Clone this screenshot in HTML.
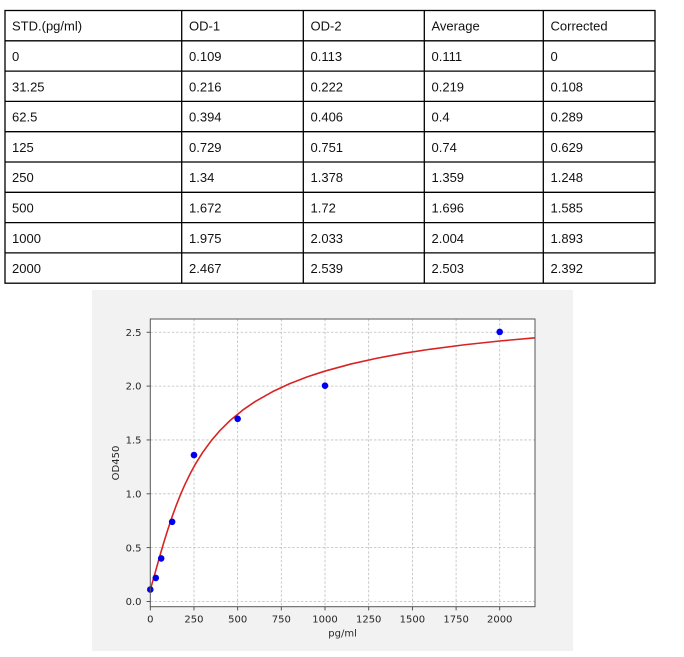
<!DOCTYPE html>
<html><head><meta charset="utf-8"><style>
html,body{margin:0;padding:0;background:#fff;}
svg{display:block;}
.t{font-family:"Liberation Sans",Arial,sans-serif;font-size:13px;fill:#111;}
.k{font-family:"DejaVu Sans","Liberation Sans",sans-serif;font-size:10px;fill:#262626;}
</style></head><body>
<svg width="684" height="657" viewBox="0 0 684 657" xmlns="http://www.w3.org/2000/svg">
<rect x="0" y="0" width="684" height="657" fill="#fff"/>
<!-- table -->
<g stroke="#000" stroke-width="1.3" fill="none">
<rect x="5" y="10.5" width="650" height="272.7"/>
<line x1="5" y1="40.8" x2="655" y2="40.8"/>
<line x1="5" y1="71.1" x2="655" y2="71.1"/>
<line x1="5" y1="101.4" x2="655" y2="101.4"/>
<line x1="5" y1="131.7" x2="655" y2="131.7"/>
<line x1="5" y1="162" x2="655" y2="162"/>
<line x1="5" y1="192.3" x2="655" y2="192.3"/>
<line x1="5" y1="222.6" x2="655" y2="222.6"/>
<line x1="5" y1="252.9" x2="655" y2="252.9"/>
<line x1="181.7" y1="10.5" x2="181.7" y2="283.2"/>
<line x1="303.3" y1="10.5" x2="303.3" y2="283.2"/>
<line x1="424.3" y1="10.5" x2="424.3" y2="283.2"/>
<line x1="543.3" y1="10.5" x2="543.3" y2="283.2"/>
</g>
<g class="t">
<text x="12" y="30.6">STD.(pg/ml)</text><text x="189" y="30.6">OD-1</text><text x="310.5" y="30.6">OD-2</text><text x="431.5" y="30.6">Average</text><text x="550.5" y="30.6">Corrected</text>
<text x="12" y="61">0</text><text x="189" y="61">0.109</text><text x="310.5" y="61">0.113</text><text x="431.5" y="61">0.111</text><text x="550.5" y="61">0</text>
<text x="12" y="91.3">31.25</text><text x="189" y="91.3">0.216</text><text x="310.5" y="91.3">0.222</text><text x="431.5" y="91.3">0.219</text><text x="550.5" y="91.3">0.108</text>
<text x="12" y="121.6">62.5</text><text x="189" y="121.6">0.394</text><text x="310.5" y="121.6">0.406</text><text x="431.5" y="121.6">0.4</text><text x="550.5" y="121.6">0.289</text>
<text x="12" y="151.9">125</text><text x="189" y="151.9">0.729</text><text x="310.5" y="151.9">0.751</text><text x="431.5" y="151.9">0.74</text><text x="550.5" y="151.9">0.629</text>
<text x="12" y="182.2">250</text><text x="189" y="182.2">1.34</text><text x="310.5" y="182.2">1.378</text><text x="431.5" y="182.2">1.359</text><text x="550.5" y="182.2">1.248</text>
<text x="12" y="212.5">500</text><text x="189" y="212.5">1.672</text><text x="310.5" y="212.5">1.72</text><text x="431.5" y="212.5">1.696</text><text x="550.5" y="212.5">1.585</text>
<text x="12" y="242.8">1000</text><text x="189" y="242.8">1.975</text><text x="310.5" y="242.8">2.033</text><text x="431.5" y="242.8">2.004</text><text x="550.5" y="242.8">1.893</text>
<text x="12" y="273.1">2000</text><text x="189" y="273.1">2.467</text><text x="310.5" y="273.1">2.539</text><text x="431.5" y="273.1">2.503</text><text x="550.5" y="273.1">2.392</text>
</g>
<!-- chart background -->
<rect x="92" y="290" width="481" height="361" fill="#f2f2f2"/>
<rect x="150.3" y="319" width="384.7" height="287.7" fill="#fff"/>
<defs><clipPath id="pc"><rect x="150.3" y="319" width="384.7" height="287.7"/></clipPath></defs>
<!-- grid -->
<g stroke="#bdbdbd" stroke-width="0.8" stroke-dasharray="2.5,1.8" fill="none">
<line x1="193.98" y1="319" x2="193.98" y2="606.7"/>
<line x1="237.65" y1="319" x2="237.65" y2="606.7"/>
<line x1="281.3" y1="319" x2="281.3" y2="606.7"/>
<line x1="325" y1="319" x2="325" y2="606.7"/>
<line x1="368.7" y1="319" x2="368.7" y2="606.7"/>
<line x1="412.4" y1="319" x2="412.4" y2="606.7"/>
<line x1="456.1" y1="319" x2="456.1" y2="606.7"/>
<line x1="499.7" y1="319" x2="499.7" y2="606.7"/>
<line x1="150.3" y1="601.5" x2="535" y2="601.5"/>
<line x1="150.3" y1="547.65" x2="535" y2="547.65"/>
<line x1="150.3" y1="493.8" x2="535" y2="493.8"/>
<line x1="150.3" y1="439.95" x2="535" y2="439.95"/>
<line x1="150.3" y1="386.1" x2="535" y2="386.1"/>
<line x1="150.3" y1="332.25" x2="535" y2="332.25"/>
</g>
<!-- fitted curve -->
<g clip-path="url(#pc)">
<polyline fill="none" stroke="#d92323" stroke-width="1.6" stroke-linejoin="round" points="150.3,589.65 152.05,583.67 153.79,577.52 155.54,571.30 158.16,561.96 160.78,552.78 164.28,540.94 167.77,529.71 172.14,516.62 176.51,504.65 180.87,493.72 185.24,483.82 190.48,473.11 195.72,463.56 202.71,452.36 211.45,440.42 220.18,430.28 230.66,419.99 242.89,409.97 255.12,401.58 272.59,391.66 290.06,383.53 307.53,376.78 325,371.07 351.2,363.95 377.41,358.14 403.62,353.33 429.82,349.27 464.76,344.75 499.7,341.00 534.99,337.82 536,337.7"/>
</g>
<!-- points -->
<g fill="#0000ee">
<circle cx="150.3" cy="589.5" r="3.3"/>
<circle cx="155.76" cy="577.9" r="3.3"/>
<circle cx="161.2" cy="558.4" r="3.3"/>
<circle cx="172.14" cy="521.8" r="3.3"/>
<circle cx="193.98" cy="455.1" r="3.3"/>
<circle cx="237.65" cy="418.8" r="3.3"/>
<circle cx="325" cy="385.7" r="3.3"/>
<circle cx="499.7" cy="331.9" r="3.3"/>
</g>
<!-- spines -->
<rect x="150.3" y="319" width="384.7" height="287.7" fill="none" stroke="#555" stroke-width="1"/>
<!-- ticks -->
<g stroke="#444" stroke-width="0.9">
<line x1="150.3" y1="606.7" x2="150.3" y2="610.4"/>
<line x1="193.98" y1="606.7" x2="193.98" y2="610.4"/>
<line x1="237.65" y1="606.7" x2="237.65" y2="610.4"/>
<line x1="281.3" y1="606.7" x2="281.3" y2="610.4"/>
<line x1="325" y1="606.7" x2="325" y2="610.4"/>
<line x1="368.7" y1="606.7" x2="368.7" y2="610.4"/>
<line x1="412.4" y1="606.7" x2="412.4" y2="610.4"/>
<line x1="456.1" y1="606.7" x2="456.1" y2="610.4"/>
<line x1="499.7" y1="606.7" x2="499.7" y2="610.4"/>
<line x1="146.6" y1="601.5" x2="150.3" y2="601.5"/>
<line x1="146.6" y1="547.65" x2="150.3" y2="547.65"/>
<line x1="146.6" y1="493.8" x2="150.3" y2="493.8"/>
<line x1="146.6" y1="439.95" x2="150.3" y2="439.95"/>
<line x1="146.6" y1="386.1" x2="150.3" y2="386.1"/>
<line x1="146.6" y1="332.25" x2="150.3" y2="332.25"/>
</g>
<g class="k" text-anchor="end">
<text x="141.5" y="605.1">0.0</text>
<text x="141.5" y="551.25">0.5</text>
<text x="141.5" y="497.4">1.0</text>
<text x="141.5" y="443.55">1.5</text>
<text x="141.5" y="389.7">2.0</text>
<text x="141.5" y="335.85">2.5</text>
</g>
<g class="k" text-anchor="middle">
<text x="150.3" y="622.7">0</text>
<text x="193.98" y="622.7">250</text>
<text x="237.65" y="622.7">500</text>
<text x="281.3" y="622.7">750</text>
<text x="325" y="622.7">1000</text>
<text x="368.7" y="622.7">1250</text>
<text x="412.4" y="622.7">1500</text>
<text x="456.1" y="622.7">1750</text>
<text x="499.7" y="622.7">2000</text>
<text x="342.6" y="636.5">pg/ml</text>
<text x="119" y="463" transform="rotate(-90 119 463)">OD450</text>
</g>
</svg>
</body></html>
